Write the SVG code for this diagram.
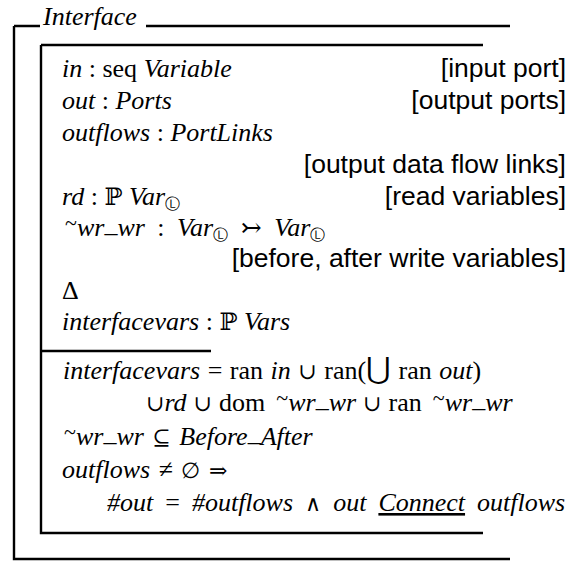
<svg xmlns="http://www.w3.org/2000/svg" width="581" height="561" viewBox="0 0 581 561">
<style>
.ln { stroke: #000; stroke-width: 2.4; fill: none; }
text { font-family: "Liberation Serif", "DejaVu Serif", serif; font-size: 26px; fill: #000; }
.i { font-style: italic; }
.s { font-family: "Liberation Sans", Arial, sans-serif; font-size: 26.5px; }
.sub { font-family: "DejaVu Sans", sans-serif; font-size: 15px; font-style: normal; }
.sym { font-family: "DejaVu Serif", "Liberation Serif", serif; font-style: normal; font-size: 22px; }
.dbl { font-family: "DejaVu Serif", "Liberation Serif", serif; font-style: normal; font-size: 24px; }
.tl { font-size: 22px; font-style: normal; }
</style>
<g id="schema-frame">
  <path class="ln" d="M14 26 H40 M146 26 H510 M14 26 V559 H510"/>
  <path class="ln" d="M41 45 H483 M41 45 V533 H483"/>
  <path class="ln" d="M41 351 H211"/>
  <text class="i" x="43" y="25">Interface</text>
</g>
<g id="declarations">
  <text x="62" y="77"><tspan class="i">in</tspan> : seq <tspan class="i">Variable</tspan></text>
  <text class="s" x="566" y="77" text-anchor="end">[input port]</text>
  <text x="62" y="109"><tspan class="i">out</tspan> : <tspan class="i">Ports</tspan></text>
  <text class="s" x="566" y="109" text-anchor="end">[output ports]</text>
  <text x="62" y="141"><tspan class="i">outflows</tspan> : <tspan class="i">PortLinks</tspan></text>
  <text class="s" x="566" y="173" text-anchor="end">[output data flow links]</text>
  <text x="62" y="205"><tspan class="i">rd</tspan> : <tspan class="dbl">ℙ</tspan> <tspan class="i">Var</tspan><tspan class="sub" dy="4">Ⓛ</tspan></text>
  <text class="s" x="566" y="205" text-anchor="end">[read variables]</text>
  <text x="65" y="236" word-spacing="6"><tspan class="tl" dy="-6">~</tspan><tspan class="i" dy="6">wr</tspan><tspan class="i" dy="-4">_</tspan><tspan class="i" dy="4">wr</tspan> : <tspan class="i">Var</tspan><tspan class="sub" dy="4">Ⓛ</tspan> <tspan class="sym" dy="-4" style="font-size:25px">↣</tspan> <tspan class="i">Var</tspan><tspan class="sub" dy="4">Ⓛ</tspan></text>
  <text class="s" x="566" y="267" text-anchor="end">[before, after write variables]</text>
  <text x="62" y="299">Δ</text>
  <text x="62" y="330"><tspan class="i">interfacevars</tspan> : <tspan class="dbl">ℙ</tspan> <tspan class="i">Vars</tspan></text>
</g>
<g id="predicates">
  <text x="63" y="379" word-spacing="1"><tspan class="i">interfacevars</tspan> = ran <tspan class="i">in</tspan> <tspan class="sym">∪</tspan> ran(<tspan class="sym" style="font-size:30px">⋃</tspan> ran <tspan class="i">out</tspan>)</text>
  <text x="146" y="411" word-spacing="0.5"><tspan class="sym">∪</tspan><tspan class="i">rd</tspan> <tspan class="sym">∪</tspan> dom <tspan class="tl" dx="4" dy="-6">~</tspan><tspan class="i" dy="6">wr</tspan><tspan class="i" dy="-4">_</tspan><tspan class="i" dy="4">wr</tspan> <tspan class="sym">∪</tspan> ran <tspan class="tl" dx="4" dy="-6">~</tspan><tspan class="i" dy="6">wr</tspan><tspan class="i" dy="-4">_</tspan><tspan class="i" dy="4">wr</tspan></text>
  <text x="64" y="445" word-spacing="2"><tspan class="tl" dy="-6">~</tspan><tspan class="i" dy="6">wr</tspan><tspan class="i" dy="-4">_</tspan><tspan class="i" dy="4">wr</tspan> <tspan class="sym">⊆</tspan> <tspan class="i">Before</tspan><tspan class="i" dy="-4">_</tspan><tspan class="i" dy="4">After</tspan></text>
  <text x="62" y="478" word-spacing="2"><tspan class="i">outflows</tspan> ≠ <tspan class="sym">∅</tspan> <tspan class="sym">⇒</tspan></text>
  <text x="107" y="511" word-spacing="5.5"><tspan class="i">#out</tspan> = <tspan class="i">#outflows</tspan> <tspan class="sym">∧</tspan> <tspan class="i">out</tspan> <tspan class="i" text-decoration="underline">Connect</tspan> <tspan class="i">outflows</tspan></text>
</g>
</svg>
